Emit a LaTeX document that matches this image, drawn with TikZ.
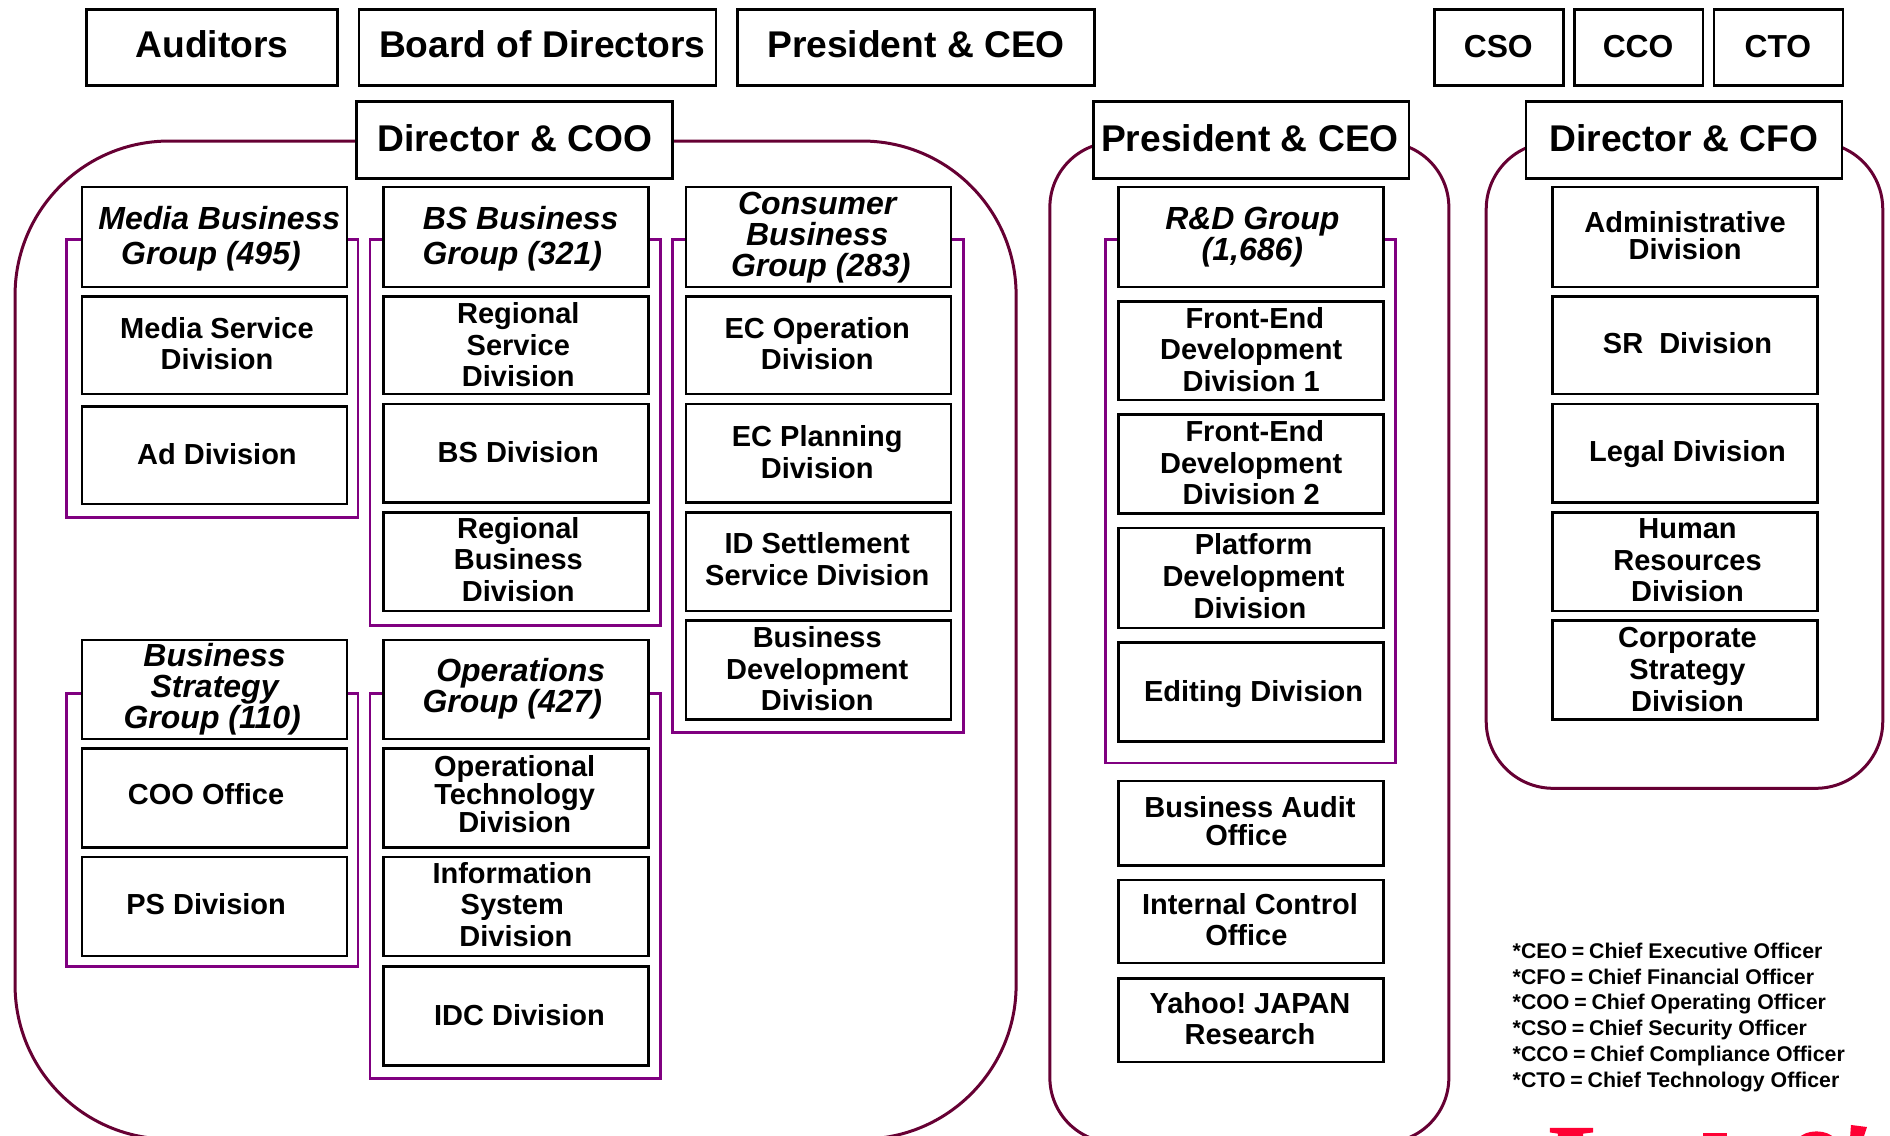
\documentclass[tikz,border=0pt]{standalone}
\usepackage{fontspec}
\setmainfont{Liberation Sans}
\definecolor{maroonline}{HTML}{660033}
\definecolor{purpleline}{HTML}{800080}
\definecolor{logored}{HTML}{FF0033}
\tikzset{
  boxshape/.style={draw=black,fill=white,line width=1.3pt,inner sep=0pt,outer sep=0pt},
  txt/.style={inner sep=0pt,outer sep=0pt,align=center,text=black},
  bigA/.style={txt,font=\bfseries\fontsize{18.6}{22}\selectfont},
  midtop/.style={txt,font=\bfseries\fontsize{15.9}{18}\selectfont},
  ttlwide/.style={txt,font=\bfseries\itshape\fontsize{16}{17.5}\selectfont},
  ttl/.style={txt,font=\bfseries\itshape\fontsize{16}{15.5}\selectfont},
  dv/.style={txt,font=\bfseries\fontsize{14.5}{15.8}\selectfont},
  dvtight/.style={txt,font=\bfseries\fontsize{14.5}{13.9}\selectfont},
  legendtext/.style={txt,align=left,font=\bfseries\fontsize{10.65}{12.9}\selectfont},
  panel/.style={draw=maroonline,line width=1.5pt},
  frameline/.style={draw=purpleline,line width=1.45pt},
  logopart/.style={fill=logored,draw=none}
}
\newcommand\bx[9]{%
  \node[boxshape,minimum width={(#4-#2)*0.60268pt},minimum height={(#5-#3)*0.60268pt}]
    (#1) at ({(#2+#4)/2},{(#3+#5)/2}) {};
  \node[#8] (#1-t) at (#6,#7) {#9};
}
\newcommand\eqs{\hspace{2.4pt}=\hspace{2.4pt}}
\begin{document}
\begin{tikzpicture}[x=0.60268pt,y=-0.60268pt]
\useasboundingbox (0,0) rectangle (1568,941.68);
\clip (0,0) rectangle (1568,941.68);
% rounded panels
\draw[panel,rounded corners=77pt] (12.5,117) rectangle (843,945);
\draw[panel,rounded corners=32.5pt] (871,118) rectangle (1202,948);
\draw[panel,rounded corners=33.5pt] (1233,118) rectangle (1562,654);
% purple frames
\draw[frameline] (55,199) rectangle (297,429);
\draw[frameline] (307,199) rectangle (548,519);
\draw[frameline] (558,199) rectangle (799,608);
\draw[frameline] (55,575) rectangle (297,802);
\draw[frameline] (307,575) rectangle (548,895);
\draw[frameline] (917,199) rectangle (1158,633);
% top row
\bx{aud}{72}{8}{280}{71}{176}{37}{bigA}{Auditors}
\bx{board}{298}{8}{594}{71}{450}{37}{bigA}{Board of Directors}
\bx{pres}{612}{8}{908}{71}{760}{37}{bigA}{President \& CEO}
\bx{cso}{1190}{8}{1297}{71}{1243}{39}{midtop}{CSO}
\bx{cco}{1306}{8}{1413}{71}{1359}{39}{midtop}{CCO}
\bx{cto}{1422}{8}{1529}{71}{1475}{39}{midtop}{CTO}
% heads
\bx{coo}{296}{84}{558}{148}{427}{115}{bigA}{Director \& COO}
\bx{ceo}{907}{84}{1169}{148}{1037}{115}{bigA}{President \& CEO}
\bx{cfo}{1266}{84}{1528}{148}{1397}{115}{bigA}{Director \& CFO}
% column 1
\bx{mbg}{68}{155}{288}{238}{182}{198}{ttlwide}{Media Business\\Group (495)\hspace*{8.4pt}}
\bx{msd}{68}{246}{288}{327}{180}{285}{dv}{Media Service\\Division}
\bx{adv}{68}{337}{288}{418}{180}{377}{dv}{Ad Division}
\bx{bsg}{68}{531}{288}{613}{178}{572}{ttl}{Business\\Strategy\\Group (110)\hspace*{2.4pt}}
\bx{cof}{68}{621}{288}{703}{171}{659}{dv}{COO Office}
\bx{psd}{68}{711}{288}{793}{171}{750}{dv}{PS Division}
% column 2
\bx{bbg}{318}{155}{538}{238}{432}{198}{ttlwide}{BS Business\\Group (321)\hspace*{8.4pt}}
\bx{rsd}{318}{246}{538}{327}{430}{286}{dv}{Regional\\Service\\Division}
\bx{bsd}{318}{335}{538}{417}{430}{375}{dv}{BS Division}
\bx{rbd}{318}{425}{538}{507}{430}{464}{dv}{Regional\\Business\\Division}
\bx{opg}{318}{531}{538}{613}{432}{571}{ttl}{Operations\\Group (427)\hspace*{8.4pt}}
\bx{otd}{318}{621}{538}{703}{427}{659}{dvtight}{Operational\\Technology\\Division}
\bx{isd}{318}{711}{538}{793}{425}{750.5}{dv}{Information\\System\\\hspace*{3.6pt}Division}
\bx{idc}{318}{802}{538}{884}{431}{842}{dv}{IDC Division}
% column 3
\bx{cbg}{569}{155}{789}{238}{678}{197}{ttl}{Consumer\\Business\\\hspace*{3.6pt}Group (283)}
\bx{eco}{569}{246}{789}{327}{678}{285}{dv}{EC Operation\\Division}
\bx{ecp}{569}{335}{789}{417}{678}{375}{dv}{EC Planning\\Division}
\bx{ids}{569}{425}{789}{507}{678}{464}{dv}{ID Settlement\\Service Division}
\bx{bdd}{569}{515}{789}{597}{678}{555}{dv}{Business\\Development\\Division}
% R&D column
\bx{rdg}{928}{155}{1148}{238}{1039}{197}{ttl}{R\&D Group\\(1,686)}
\bx{fe1}{928}{250}{1148}{332}{1038}{290}{dv}{\hspace*{3.6pt}Front-End\\Development\\Division 1}
\bx{fe2}{928}{344}{1148}{426}{1038}{384}{dv}{\hspace*{3.6pt}Front-End\\Development\\Division 2}
\bx{pfd}{928}{438}{1148}{521}{1040}{478}{dv}{Platform\\Development\\Division\hspace*{3.6pt}}
\bx{edd}{928}{533}{1148}{615}{1040}{576}{dv}{Editing Division}
\bx{bao}{928}{648}{1148}{718}{1037}{681}{dvtight}{Business Audit\\Office\hspace*{3.6pt}}
\bx{ico}{928}{730}{1148}{799}{1037}{763}{dv}{Internal Control\\Office\hspace*{3.6pt}}
\bx{yjr}{928}{812}{1148}{881}{1037}{845}{dv}{Yahoo!\ JAPAN\\Research}
% CFO column
\bx{adm}{1288}{155}{1508}{238}{1398}{195.5}{dvtight}{Administrative\\Division}
\bx{srd}{1288}{246}{1508}{327}{1400}{285}{dv}{SR\ \ Division}
\bx{leg}{1288}{335}{1508}{417}{1400}{377}{dv}{Legal Division}
\bx{hrd}{1288}{425}{1508}{507}{1400}{465}{dv}{Human\\Resources\\Division}
\bx{csd}{1288}{515}{1508}{597}{1400}{555.5}{dv}{Corporate\\Strategy\\Division}
% legend
\node[legendtext,anchor=west] (legend) at (1255,844) {*CEO\eqs Chief Executive Officer\\*CFO\eqs Chief Financial Officer\\*COO\eqs Chief Operating Officer\\*CSO\eqs Chief Security Officer\\*CCO\eqs Chief Compliance Officer\\*CTO\eqs Chief Technology Officer};
% clipped logo
\fill[logopart] (1285.9,935.8) -- (1321.6,935.8) -- (1321.6,939.5) -- (1313.3,940.5) -- (1313.3,945) -- (1292.5,945) -- (1292.5,940.5) -- (1285.9,939.5) -- cycle;
\fill[logopart] (1412.8,940) rectangle (1432.7,945);
\fill[logopart] (1491.7,945) .. controls (1497,936.5) and (1517,936.5) .. (1522.3,945) -- cycle;
\fill[logopart] (1535.6,933.3) -- (1548.9,935) -- (1545.6,945) -- (1534.8,945) -- cycle;
\end{tikzpicture}
\end{document}
